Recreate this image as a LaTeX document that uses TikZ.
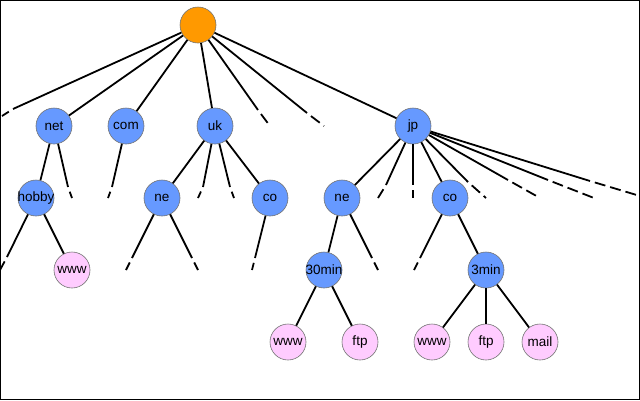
\documentclass[tikz,border=0pt]{standalone}
\usepackage{fontspec}
\setmainfont{Liberation Sans}
\definecolor{nodeblue}{HTML}{6699FF}
\definecolor{nodeorange}{HTML}{FF9900}
\definecolor{nodepink}{HTML}{FFCCFF}
\begin{document}
\begin{tikzpicture}[x=1pt,y=-1pt,
  dns/.style={circle, minimum size=36pt, inner sep=0pt, draw=black!55, line width=0.6pt, font=\fontsize{13.5}{13.5}\selectfont},
  inner/.style={dns, fill=nodeblue},
  leaf/.style={dns, fill=nodepink},
  rootnode/.style={dns, fill=nodeorange},
  edge/.style={line width=1.8pt},
  stubend/.style={line width=1.8pt, dash pattern=on 11pt off 5pt, dash phase=11pt}]
\useasboundingbox (0,0) rectangle (640,400);
\draw[line width=1pt] (0.5,0.5) rectangle (639.5,399.5);

% nodes
\node[rootnode] (root) at (198,25) {};
\node[inner] (net) at (54,126) {\makebox[0pt]{net}};
\node[inner] (com) at (126,126) {\makebox[0pt]{com}};
\node[inner] (uk) at (215,126) {\makebox[0pt]{uk}};
\node[inner] (jp) at (413,126) {\makebox[0pt]{jp}};
\node[inner] (hobby) at (36,198) {\makebox[0pt]{hobby}};
\node[inner] (ukne) at (162,198) {\makebox[0pt]{ne}};
\node[inner] (ukco) at (270,198) {\makebox[0pt]{co}};
\node[inner] (jpne) at (342,198) {\makebox[0pt]{ne}};
\node[inner] (jpco) at (450,198) {\makebox[0pt]{co}};
\node[leaf] (hwww) at (72,270) {\makebox[0pt]{www}};
\node[inner] (m30) at (324,270) {\makebox[0pt]{30min}};
\node[inner] (m3) at (486,270) {\makebox[0pt]{3min}};
\node[leaf] (w1) at (288,342) {\makebox[0pt]{www}};
\node[leaf] (f1) at (360,342) {\makebox[0pt]{ftp}};
\node[leaf] (w2) at (432,342) {\makebox[0pt]{www}};
\node[leaf] (f2) at (486,342) {\makebox[0pt]{ftp}};
\node[leaf] (ml) at (540,342) {\makebox[0pt]{mail}};

% solid edges
\draw[edge] (root) -- (net);
\draw[edge] (root) -- (com);
\draw[edge] (root) -- (uk);
\draw[edge] (root) -- (jp);
\draw[edge] (net) -- (hobby);
\draw[edge] (uk) -- (ukne);
\draw[edge] (uk) -- (ukco);
\draw[edge] (jp) -- (jpne);
\draw[edge] (jp) -- (jpco);
\draw[edge] (hobby) -- (hwww);
\draw[edge] (jpne) -- (m30);
\draw[edge] (jpco) -- (m3);
\draw[edge] (m30) -- (w1);
\draw[edge] (m30) -- (f1);
\draw[edge] (m3) -- (w2);
\draw[edge] (m3) -- (f2);
\draw[edge] (m3) -- (ml);

% stub coordinates (solid end s, free end e)
\coordinate (r1s) at (13,109);  \coordinate (r1e) at (2,116);
\coordinate (r2s) at (258,110); \coordinate (r2e) at (270,126);
\coordinate (r3s) at (307,113); \coordinate (r3e) at (324,126);
\coordinate (n1s) at (68,187);  \coordinate (n1e) at (72,198);
\coordinate (c1s) at (112,187); \coordinate (c1e) at (108,198);
\coordinate (u1s) at (203,187); \coordinate (u1e) at (198,198);
\coordinate (u2s) at (230,187); \coordinate (u2e) at (234,198);
\coordinate (j1s) at (386,185); \coordinate (j1e) at (378,198);
\coordinate (j2s) at (413,185); \coordinate (j2e) at (413,198);
\coordinate (j3s) at (468,182); \coordinate (j3e) at (486,198);
\coordinate (j4s) at (508,180); \coordinate (j4e) at (540,198);
\coordinate (j5s) at (548,180); \coordinate (j5e) at (594,198);
\coordinate (j6s) at (590,181); \coordinate (j6e) at (640,196);
\coordinate (h1s) at (7,257);   \coordinate (h1e) at (0,270);
\coordinate (a1s) at (132,258); \coordinate (a1e) at (126,270);
\coordinate (a2s) at (192,258); \coordinate (a2e) at (198,270);
\coordinate (b1s) at (255,258); \coordinate (b1e) at (252,270);
\coordinate (d1s) at (372,258); \coordinate (d1e) at (378,270);
\coordinate (g1s) at (420,258); \coordinate (g1e) at (414,270);

% stubs
\foreach \p/\s in {root/r1, root/r2, root/r3, net/n1, com/c1, uk/u1, uk/u2,
  jp/j1, jp/j2, jp/j3, jp/j4, jp/j5, jp/j6, hobby/h1, ukne/a1, ukne/a2,
  ukco/b1, jpne/d1, jpco/g1}{
  \draw[edge] (\p) -- (\s s);
  \draw[stubend] (\s s) -- (\s e);
}
\end{tikzpicture}
\end{document}
